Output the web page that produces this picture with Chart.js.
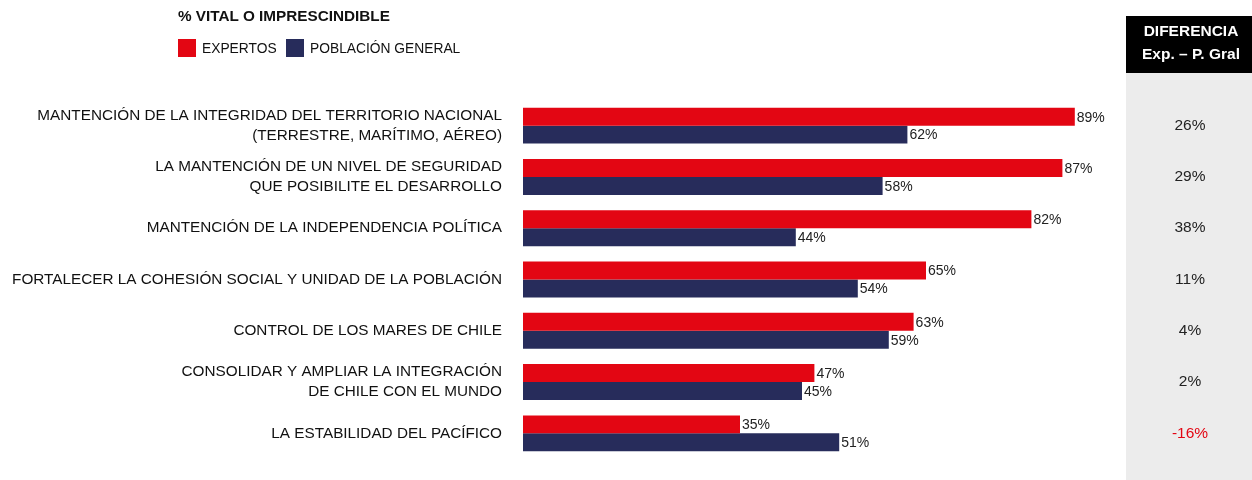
<!DOCTYPE html>
<html>
<head>
<meta charset="utf-8">
<script src="https://cdn.jsdelivr.net/npm/chart.js@4"></script>
<style>
  body { margin: 0; background: #fff; font-family: "Liberation Sans", Arial, sans-serif; }
  #wrap { position: relative; width: 1252px; height: 480px; }
  #chart { position: absolute; left: 0; top: 0; }
  .title { position: absolute; left: 178px; top: 7px; font-size: 15.3px; font-weight: bold; color: #111; }
  .leg { position: absolute; top: 39px; font-size: 13.8px; color: #111; display: flex; align-items: center; }
  .leg span.sw { display: inline-block; width: 18px; height: 18px; margin-right: 6px; }
</style>
</head>
<body>
<div id="wrap">
  <canvas id="chart" width="1252" height="480"></canvas>
  <div class="title">% VITAL O IMPRESCINDIBLE</div>
  <div class="leg" style="left:178px"><span class="sw" style="background:#e30613"></span>EXPERTOS</div>
  <div class="leg" style="left:286px"><span class="sw" style="background:#272c5b"></span>POBLACIÓN GENERAL</div>
</div>
<script>
var categorias = [
    ['MANTENCIÓN DE LA INTEGRIDAD DEL TERRITORIO NACIONAL', '(TERRESTRE, MARÍTIMO, AÉREO)'],
    ['LA MANTENCIÓN DE UN NIVEL DE SEGURIDAD', 'QUE POSIBILITE EL DESARROLLO'],
    'MANTENCIÓN DE LA INDEPENDENCIA POLÍTICA',
    'FORTALECER LA COHESIÓN SOCIAL Y UNIDAD DE LA POBLACIÓN',
    'CONTROL DE LOS MARES DE CHILE',
    ['CONSOLIDAR Y AMPLIAR LA INTEGRACIÓN', 'DE CHILE CON EL MUNDO'],
    'LA ESTABILIDAD DEL PACÍFICO'
];
var expertos = [89, 87, 82, 65, 63, 47, 35];
var poblacion = [62, 58, 44, 54, 59, 45, 51];
var diferencia = [26, 29, 38, 11, 4, 2, -16];

var FONT = '"Liberation Sans", Arial, sans-serif';

var etiquetasPlugin = {
    id: 'etiquetas',
    beforeDraw: function (chart) {
        var c = chart.ctx;
        c.save();
        c.fillStyle = '#ececec';
        c.fillRect(1126, 73, 126, 407);
        c.fillStyle = '#000';
        c.fillRect(1126, 16, 126, 57);
        c.fillStyle = '#fff';
        c.font = 'bold 15.5px ' + FONT;
        c.textAlign = 'center';
        c.textBaseline = 'middle';
        c.fillText('DIFERENCIA', 1191, 32);
        c.fillText('Exp. – P. Gral', 1191, 55);
        c.restore();
    },
    afterDatasetsDraw: function (chart) {
        var c = chart.ctx;
        c.save();
        c.font = '14px ' + FONT;
        c.textBaseline = 'middle';
        c.textAlign = 'left';
        c.fillStyle = '#222';
        chart.data.datasets.forEach(function (ds, i) {
            chart.getDatasetMeta(i).data.forEach(function (bar, j) {
                c.fillText(ds.data[j] + '%', bar.x + 2, bar.y + 1);
            });
        });
        var y = chart.scales.y;
        c.font = '15.5px ' + FONT;
        c.textAlign = 'center';
        diferencia.forEach(function (d, j) {
            c.fillStyle = d < 0 ? '#e30613' : '#222';
            c.fillText(d + '%', 1190, y.getPixelForValue(j));
        });
        c.restore();
    }
};

new Chart(document.getElementById('chart').getContext('2d'), {
    type: 'bar',
    data: {
        labels: categorias,
        datasets: [{
            label: 'EXPERTOS',
            data: expertos,
            backgroundColor: '#e30613',
            barPercentage: 1,
            categoryPercentage: 0.7
        }, {
            label: 'POBLACIÓN GENERAL',
            data: poblacion,
            backgroundColor: '#272c5b',
            barPercentage: 1,
            categoryPercentage: 0.7
        }]
    },
    options: {
        indexAxis: 'y',
        responsive: false,
        animation: false,
        layout: { padding: { left: 0, right: 109, top: 100, bottom: 21 } },
        plugins: {
            legend: { display: false },
            tooltip: { enabled: false }
        },
        scales: {
            x: { display: false, min: 0, max: 100 },
            y: {
                grid: { display: false, drawTicks: false },
                border: { display: false },
                afterFit: function (scale) {
                    scale.width = 523;
                    scale.paddingTop = 0;
                    scale.paddingBottom = 0;
                },
                ticks: {
                    color: '#111',
                    padding: 21,
                    font: { family: FONT, size: 15.3, lineHeight: 1.3 }
                }
            }
        }
    },
    plugins: [etiquetasPlugin]
});
</script>
</body>
</html>
